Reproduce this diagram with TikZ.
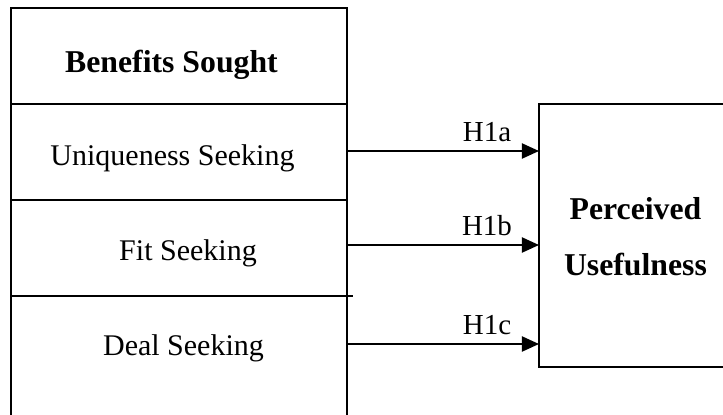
\documentclass[tikz,border=0pt]{standalone}
\usepackage{fontspec}
\setmainfont{Liberation Serif}
\usetikzlibrary{arrows.meta}

\tikzset{
  seg/.style={font=\fontsize{12}{14}\selectfont, anchor=base, inner sep=0pt},
  hyp/.style={font=\fontsize{11.6}{14}\selectfont, anchor=base, inner sep=0pt},
  heading/.style={font=\fontsize{12.7}{22.4}\selectfont\bfseries, inner sep=0pt},
  link/.style={-{Triangle[length=6.8pt,width=6pt]}, line width=0.8pt},
}

\begin{document}
\begin{tikzpicture}[x=0.4pt, y=-0.4pt, line width=0.8pt]
  \useasboundingbox (0,0) rectangle (723,415);

  % benefits sought column
  \draw (11,415) -- (11,8) -- (347,8) -- (347,415);
  \draw (11,104) -- (347,104);
  \draw (11,200) -- (347,200);
  \draw (11,296) -- (353,296);

  % perceived usefulness
  \draw (723,104) -- (539,104) -- (539,367) -- (723,367);

  \node[heading, anchor=base] (ttl) at (171.5,72) {Benefits Sought};
  \node[seg] (uniq) at (172.5,165) {Uniqueness Seeking};
  \node[seg] (fit) at (188,260) {Fit Seeking};
  \node[seg] (deal) at (183.5,355) {Deal Seeking};
  \node[heading, align=center] (pu) at (635.5,237) {Perceived\\Usefulness};

  \foreach \y/\lab/\nm in {151/H1a/a, 245/H1b/b, 344/H1c/c} {
    \coordinate (src-\nm) at (347,\y);
    \coordinate (dst-\nm) at (539,\y);
    \draw[link] (src-\nm) -- (dst-\nm);
    \node[hyp] (h-\nm) at (487,\y-10) {\lab};
  }
\end{tikzpicture}
\end{document}
